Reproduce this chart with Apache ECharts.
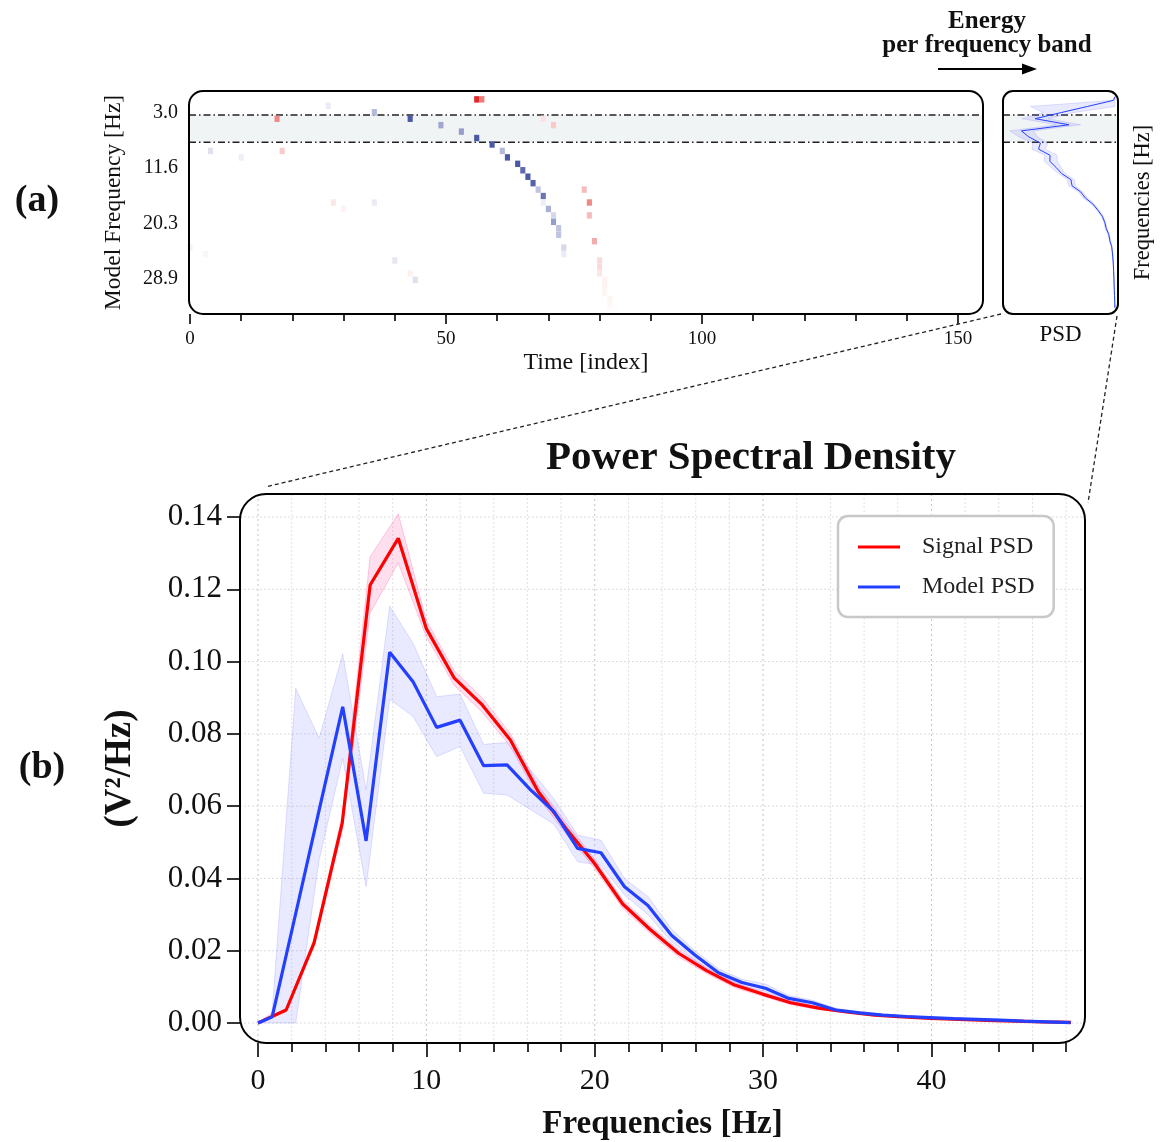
<!DOCTYPE html>
<html><head><meta charset="utf-8">
<script src="https://cdn.jsdelivr.net/npm/echarts@6/dist/echarts.min.js"></script>
<style>html,body{margin:0;padding:0;background:#fff}#c{width:1160px;height:1142px}</style>
</head><body><div id="c"></div>
<script>
const FONT = "'Liberation Serif','DejaVu Serif',serif";

// ---------- (a) time-frequency map: [time index, model-frequency row, signed intensity] ----------
const heatCells = [
  [56,1,-0.9],[57,1,-0.55],[27,2,0.1],[36,3,0.35],[17,4,-0.5],[43,4,0.85],[69,4,-0.12],
  [49,5,0.45],[71,5,-0.22],[53,6,0.5],[56,7,0.85],[59,8,0.85],[4,9,0.15],[18,9,-0.22],
  [61,9,0.35],[10,10,0.08],[62,10,0.85],[64,11,0.85],[65,12,0.75],[66,13,0.85],[67,14,0.8],
  [68,15,0.3],[69,16,0.7],[69,17,0.08],[70,18,0.4],[71,19,0.2],[71,20,0.5],[72,21,0.3],
  [72,22,0.3],[73,24,0.2],[73,25,0.1],[28,17,-0.1],[30,18,-0.05],[36,17,0.1],[0,24,0.06],
  [3,25,0.04],[40,26,0.12],[43,28,-0.06],[44,29,0.15],[77,15,-0.28],[78,17,-0.5],[78,19,-0.28],
  [79,23,-0.35],[80,26,-0.15],[80,27,-0.15],[80,28,-0.1],[81,29,-0.05],[81,30,-0.05],[81,31,-0.04],
  [82,32,-0.04],[82,33,-0.03]
];
const heatTimeTicks = [0, 50, 100, 150];
const heatTimeMinor = [10, 20, 30, 40, 60, 70, 80, 90, 110, 120, 130, 140];
const heatFreqTicks = [3.0, 11.6, 20.3, 28.9];
const heatBand = [3.42, 7.66];
const sideBand = [4.19, 10.43];

// ---------- (b) power spectral density ----------
const sigFreq = [0,1.67,3.33,5.00,6.66,8.33,9.99,11.66,13.32,14.99,16.65,18.32,19.98,21.65,23.31,
  24.98,26.64,28.31,29.97,31.64,33.30,34.97,36.63,38.30,39.96,41.63,43.29,44.96,46.62,48.29];
const sigPSD = [0,0.0036,0.0222,0.0553,0.1212,0.1341,0.1092,0.0954,0.0880,0.0783,0.0640,0.0537,
  0.0442,0.0330,0.0258,0.0193,0.0145,0.0105,0.0080,0.0056,0.0041,0.0031,0.0022,0.0017,0.0013,
  0.0010,0.0007,0.0005,0.0003,0.0002];
const sigStd = [0,0.0004,0.001,0.002,0.0078,0.0068,0.0023,0.002,0.002,0.0018,0.0016,0.0015,0.0013,
  0.0012,0.0011,0.001,0.0008,0.0007,0.0006,0.0005,0.0004,0.0003,0.0003,0.0002,0.0002,0.0001,
  0.0001,0.0001,0.0001,0.0001];

const modFreq = [0,0.84,2.24,3.63,5.03,6.42,7.82,9.21,10.61,12.00,13.40,14.79,16.19,17.58,18.98,
  20.37,21.77,23.16,24.56,25.95,27.35,28.74,30.14,31.53,32.93,34.32,35.72,37.11,38.51,39.90,
  41.30,42.69,44.09,45.48,46.88,48.27];
const modPSD = [0,0.0017,0.0303,0.0589,0.0875,0.0504,0.1026,0.0944,0.0818,0.0838,0.0712,0.0714,
  0.0645,0.0585,0.0483,0.0471,0.0377,0.0325,0.0243,0.0188,0.0139,0.0112,0.0096,0.0068,0.0056,
  0.0036,0.0028,0.0022,0.0018,0.0015,0.0012,0.0010,0.0008,0.0005,0.0003,0.0001];
const modHigh = [0,0.003,0.0926,0.0788,0.1021,0.0645,0.1154,0.1051,0.0903,0.0910,0.0771,0.0776,
  0.0700,0.0620,0.0520,0.0506,0.0400,0.0350,0.0260,0.0200,0.0150,0.0121,0.0108,0.0076,0.0063,
  0.0041,0.0032,0.0025,0.0020,0.0017,0.0014,0.0011,0.0009,0.0006,0.0004,0.0002];
const modLow = [0,0.0,0.0,0.0451,0.0732,0.0377,0.0896,0.0848,0.0737,0.0765,0.0636,0.0631,
  0.0590,0.0550,0.0446,0.0436,0.0354,0.0300,0.0225,0.0174,0.0128,0.0103,0.0087,0.0060,0.0049,
  0.0031,0.0024,0.0019,0.0016,0.0013,0.0010,0.0009,0.0007,0.0004,0.0002,0.0000];

const freqTicks = [0, 10, 20, 30, 40];
const freqMinor = [2,4,6,8,12,14,16,18,22,24,26,28,32,34,36,38,42,44,46,48];
const psdTicks = [0, 0.02, 0.04, 0.06, 0.08, 0.10, 0.12, 0.14];

const RED = '#ff0000', BLUE = '#2440ff';

function bandPolygon(xs, lo, hi, horizontal, fill, stroke) {
  return function (params, api) {
    if (params.dataIndex !== 0) return null;
    const pts = [];
    for (let i = 0; i < xs.length; i++) pts.push(horizontal ? api.coord([hi[i], xs[i]]) : api.coord([xs[i], hi[i]]));
    for (let i = xs.length - 1; i >= 0; i--) pts.push(horizontal ? api.coord([lo[i], xs[i]]) : api.coord([xs[i], lo[i]]));
    return {type: 'polygon', shape: {points: pts}, style: {fill: fill, stroke: stroke, lineWidth: 1}};
  };
}
function bandStrip(params, api) {
  const cs = params.coordSys;
  const y1 = api.coord([api.value(0), api.value(1)])[1];
  const y2 = api.coord([api.value(0), api.value(2)])[1];
  const dash = [7, 3, 1.5, 3];
  return {type: 'group', children: [
    {type: 'rect', shape: {x: cs.x, y: Math.min(y1, y2), width: cs.width, height: Math.abs(y2 - y1)},
      style: {fill: 'rgba(205,214,214,0.28)'}},
    {type: 'line', shape: {x1: cs.x, y1: y1, x2: cs.x + cs.width, y2: y1}, style: {stroke: '#222', lineWidth: 1.4, lineDash: dash}},
    {type: 'line', shape: {x1: cs.x, y1: y2, x2: cs.x + cs.width, y2: y2}, style: {stroke: '#222', lineWidth: 1.4, lineDash: dash}}
  ]};
}
function vLines(color, dash) {
  return function (params, api) {
    const cs = params.coordSys;
    const x = api.coord([api.value(0), 0])[0];
    return {type: 'line', shape: {x1: x, y1: cs.y, x2: x, y2: cs.y + cs.height}, style: {stroke: color, lineWidth: 1, lineDash: dash}};
  };
}
function hLines(color, dash) {
  return function (params, api) {
    const cs = params.coordSys;
    const y = api.coord([0, api.value(1)])[1];
    return {type: 'line', shape: {x1: cs.x, y1: y, x2: cs.x + cs.width, y2: y}, style: {stroke: color, lineWidth: 1, lineDash: dash}};
  };
}

const noLine = {show: false, onZero: false};
const noAxis = {axisLine: noLine, axisTick: {show: false}, axisLabel: {show: false}, splitLine: {show: false}};
const tickStyle = {color: '#000', width: 1.6};

const option = {
  animation: false,
  backgroundColor: '#fff',
  grid: [
    {left: 189, top: 91, width: 794, height: 223},
    {left: 1003, top: 91, width: 115, height: 223},
    {left: 240, top: 494, width: 845, height: 549}
  ],
  xAxis: [
    {gridIndex: 0, type: 'value', min: -0.195, max: 154.88, position: 'bottom',
      axisLine: noLine, splitLine: {show: false},
      axisTick: {customValues: heatTimeTicks, length: 10, lineStyle: tickStyle},
      axisLabel: {customValues: heatTimeTicks, margin: 16, fontFamily: FONT, fontSize: 19, color: '#111'},
      name: 'Time [index]', nameLocation: 'middle', nameGap: 37,
      nameTextStyle: {fontFamily: FONT, fontSize: 24, color: '#111'}},
    {gridIndex: 0, type: 'value', min: -0.195, max: 154.88, position: 'bottom',
      axisLine: noLine, splitLine: {show: false}, axisLabel: {show: false},
      axisTick: {customValues: heatTimeMinor, length: 7, lineStyle: tickStyle}},
    Object.assign({gridIndex: 1, type: 'value', min: -0.0033, max: 0.1228, inverse: true,
      name: 'PSD', nameLocation: 'middle', nameGap: 9,
      nameTextStyle: {fontFamily: FONT, fontSize: 23, color: '#111'}}, noAxis),
    {gridIndex: 2, type: 'value', min: -1.07, max: 49.12, position: 'bottom',
      axisLine: noLine, splitLine: {show: false},
      axisTick: {customValues: freqTicks, length: 14, lineStyle: tickStyle},
      axisLabel: {customValues: freqTicks, margin: 23, fontFamily: FONT, fontSize: 30, color: '#111'},
      name: 'Frequencies [Hz]', nameLocation: 'middle', nameGap: 65,
      nameTextStyle: {fontFamily: FONT, fontSize: 33, fontWeight: 'bold', color: '#111'}},
    {gridIndex: 2, type: 'value', min: -1.07, max: 49.12, position: 'bottom',
      axisLine: noLine, splitLine: {show: false}, axisLabel: {show: false},
      axisTick: {customValues: freqMinor, length: 9, lineStyle: tickStyle}}
  ],
  yAxis: [
    {gridIndex: 0, type: 'value', min: -0.3, max: 34.3, inverse: true,
      axisLine: noLine, splitLine: {show: false}, axisTick: {show: false},
      axisLabel: {customValues: heatFreqTicks, margin: 11, fontFamily: FONT, fontSize: 20, color: '#111',
        formatter: v => v.toFixed(1)},
      name: 'Model Frequency [Hz]', nameLocation: 'middle', nameGap: 63, nameRotate: 90,
      nameTextStyle: {fontFamily: FONT, fontSize: 23.5, color: '#111'}},
    Object.assign({gridIndex: 1, type: 'value', min: -1.3, max: 49.7, inverse: true, position: 'right',
      name: 'Frequencies [Hz]', nameLocation: 'middle', nameGap: 14, nameRotate: 90,
      nameTextStyle: {fontFamily: FONT, fontSize: 22.5, color: '#111'}}, noAxis),
    {gridIndex: 2, type: 'value', min: -0.00553, max: 0.14637,
      axisLine: noLine, splitLine: {show: false},
      axisTick: {customValues: psdTicks, length: 13, lineStyle: tickStyle},
      axisLabel: {customValues: psdTicks, margin: 18, fontFamily: FONT, fontSize: 31, color: '#111',
        formatter: v => v.toFixed(2)},
      name: '(V²/Hz)', nameLocation: 'middle', nameGap: 101, nameRotate: 90,
      nameTextStyle: {fontFamily: FONT, fontSize: 37, fontWeight: 'bold', color: '#111'}}
  ],
  visualMap: {type: 'continuous', show: false, seriesIndex: 0, dimension: 2, min: -1, max: 1,
    inRange: {color: ['#e01010', '#ffffff', '#2b3a94']}},
  legend: {left: 838, top: 516, orient: 'vertical', data: ['Signal PSD', 'Model PSD'],
    icon: 'rect', itemWidth: 42, itemHeight: 3, itemGap: 16, padding: [19, 19, 18, 20],
    borderColor: '#c8c8c8', borderWidth: 2.5, borderRadius: 10, backgroundColor: '#fff',
    textStyle: {fontFamily: FONT, fontSize: 24, lineHeight: 24, color: '#222', padding: [0, 0, 0, 17]}},
  series: [
    {type: 'custom', name: 'cells', xAxisIndex: 0, yAxisIndex: 0, data: heatCells, encode: {x: 0, y: 1},
      renderItem: function (params, api) {
        const t = api.value(0), r = api.value(1);
        const p0 = api.coord([t - 0.5, r - 0.5]), p1 = api.coord([t + 0.5, r + 0.5]);
        return {type: 'rect', shape: {x: Math.min(p0[0], p1[0]), y: Math.min(p0[1], p1[1]),
          width: Math.abs(p1[0] - p0[0]), height: Math.abs(p1[1] - p0[1])}, style: {fill: api.visual('color')}};
      }},
    {type: 'custom', xAxisIndex: 0, yAxisIndex: 0, data: [[0, heatBand[0], heatBand[1]]],
      encode: {x: 0, y: [1, 2]}, renderItem: bandStrip, z: 1},
    {type: 'custom', xAxisIndex: 2, yAxisIndex: 1, data: [[0, sideBand[0], sideBand[1]]],
      encode: {x: 0, y: [1, 2]}, renderItem: bandStrip, z: 1},
    {type: 'custom', xAxisIndex: 2, yAxisIndex: 1, data: modFreq.map((f, i) => [modPSD[i], f]),
      encode: {x: 0, y: 1},
      renderItem: bandPolygon(modFreq, modLow, modHigh, true, 'rgba(110,110,255,0.15)', 'rgba(110,110,255,0.2)')},
    {type: 'line', xAxisIndex: 2, yAxisIndex: 1, data: modFreq.map((f, i) => [modPSD[i], f]),
      symbol: 'none', lineStyle: {color: BLUE, width: 1}, itemStyle: {color: BLUE}, silent: true},
    {type: 'custom', xAxisIndex: 3, yAxisIndex: 2, data: freqMinor.map(f => [f, 0]), encode: {x: 0, y: 1},
      renderItem: vLines('#e2e2e2', [2, 2]), z: 0},
    {type: 'custom', xAxisIndex: 3, yAxisIndex: 2, data: freqTicks.map(f => [f, 0]), encode: {x: 0, y: 1},
      renderItem: vLines('#c4c4c4', [2, 3]), z: 0},
    {type: 'custom', xAxisIndex: 3, yAxisIndex: 2, data: psdTicks.map(v => [0, v]), encode: {x: 0, y: 1},
      renderItem: hLines('#dcdcdc', [2, 2]), z: 0},
    {type: 'custom', xAxisIndex: 3, yAxisIndex: 2, data: sigFreq.map((f, i) => [f, sigPSD[i]]), encode: {x: 0, y: 1},
      renderItem: bandPolygon(sigFreq, sigPSD.map((v, i) => v - sigStd[i]), sigPSD.map((v, i) => v + sigStd[i]),
        false, 'rgba(255,90,170,0.2)', 'rgba(255,90,170,0.3)')},
    {type: 'custom', xAxisIndex: 3, yAxisIndex: 2, data: modFreq.map((f, i) => [f, modPSD[i]]), encode: {x: 0, y: 1},
      renderItem: bandPolygon(modFreq, modLow, modHigh, false, 'rgba(110,110,255,0.15)', 'rgba(110,110,255,0.2)')},
    {type: 'line', name: 'Signal PSD', xAxisIndex: 3, yAxisIndex: 2, data: sigFreq.map((f, i) => [f, sigPSD[i]]),
      symbol: 'none', lineStyle: {color: RED, width: 3.2}, itemStyle: {color: RED}, z: 4},
    {type: 'line', name: 'Model PSD', xAxisIndex: 3, yAxisIndex: 2, data: modFreq.map((f, i) => [f, modPSD[i]]),
      symbol: 'none', lineStyle: {color: BLUE, width: 3.2}, itemStyle: {color: BLUE}, z: 5}
  ],
  graphic: [
    {type: 'rect', z: 50, silent: true, shape: {x: 189, y: 91, width: 794, height: 223, r: 14},
      style: {fill: 'none', stroke: '#000', lineWidth: 2}},
    {type: 'rect', z: 50, silent: true, shape: {x: 1003, y: 91, width: 115, height: 223, r: 10},
      style: {fill: 'none', stroke: '#000', lineWidth: 2}},
    {type: 'rect', z: 50, silent: true, shape: {x: 240, y: 494, width: 845, height: 549, r: 26},
      style: {fill: 'none', stroke: '#000', lineWidth: 2}},
    {type: 'line', z: 50, silent: true, shape: {x1: 1001, y1: 314, x2: 265, y2: 487},
      style: {stroke: '#222', lineWidth: 1.3, lineDash: [4, 3]}},
    {type: 'line', z: 50, silent: true, shape: {x1: 1117, y1: 316, x2: 1088, y2: 503},
      style: {stroke: '#222', lineWidth: 1.3, lineDash: [4, 3]}},
    {type: 'line', z: 50, silent: true, shape: {x1: 938, y1: 69, x2: 1024, y2: 69},
      style: {stroke: '#000', lineWidth: 2}},
    {type: 'polygon', z: 50, silent: true, shape: {points: [[1037, 69], [1022, 63.5], [1022, 74.5]]},
      style: {fill: '#000'}},
    {type: 'text', z: 50, silent: true, x: 987, y: 22,
      style: {text: 'Energy', font: 'bold 25px ' + FONT, align: 'center', verticalAlign: 'middle', fill: '#111'}},
    {type: 'text', z: 50, silent: true, x: 987, y: 46,
      style: {text: 'per frequency band', font: 'bold 25px ' + FONT, align: 'center', verticalAlign: 'middle', fill: '#111'}},
    {type: 'text', z: 50, silent: true, x: 37, y: 201,
      style: {text: '(a)', font: 'bold 38px ' + FONT, align: 'center', verticalAlign: 'middle', fill: '#111'}},
    {type: 'text', z: 50, silent: true, x: 42, y: 768,
      style: {text: '(b)', font: 'bold 38px ' + FONT, align: 'center', verticalAlign: 'middle', fill: '#111'}},
    {type: 'text', z: 50, silent: true, x: 751, y: 458,
      style: {text: 'Power Spectral Density', font: 'bold 41px ' + FONT, align: 'center', verticalAlign: 'middle', fill: '#111'}}
  ]
};

const chart = echarts.init(document.getElementById('c'), null, {renderer: 'canvas', width: 1160, height: 1142});
chart.setOption(option);
</script>
</body></html>
